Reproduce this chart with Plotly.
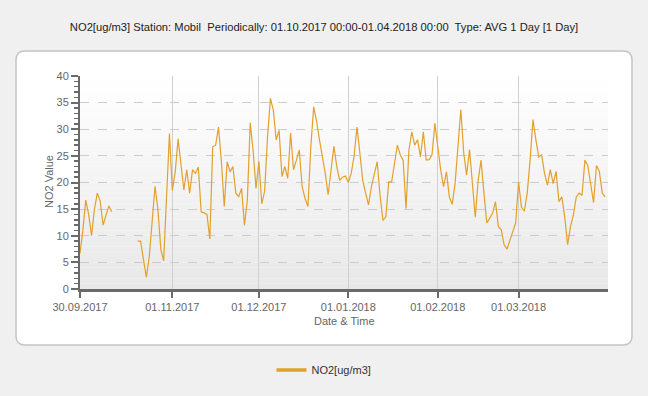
import plotly.graph_objects as go
import pandas as pd

# ---------------- data ----------------
start_date = "2017-09-30"
no2_values = [6.7, 11, 16.7, 14, 10, 15, 18, 16.5, 12, 14, 15.6, 14.5,
              None, None, None, None, None, None, None, None,
              9, 9, 5.5, 2.2, 6, 13, 19.3, 15, 7.5, 5.3,
              19, 29.2, 18.5, 22, 28.2, 23, 18.6, 22.4, 18, 22.4,
              21.7, 22.9, 14.5, 14.3, 14, 9.4, 26.7, 27, 30.4, 24,
              15.5, 23.9, 22, 23, 18, 17.3, 18.9, 12, 16.7, 31.2,
              26, 18.9, 24, 16, 18.4, 28.6, 35.8, 33.6, 28, 29.8,
              21.1, 23, 20.8, 29.3, 22.4, 24.2, 26.1, 19.2, 17, 15.5,
              26.7, 34.2, 31.5, 28, 25, 21.7, 17.7, 22.4, 26.8, 23,
              20.4, 21, 21.2, 20, 21.7, 25, 30.4, 25.5, 20.4, 18,
              15.8, 19.2, 21.4, 23.9, 17.5, 12.9, 13.5, 20.1, 20.1, 23.6,
              27, 25.2, 24.2, 15.1, 26.1, 29.5, 27, 28, 24.8, 29.5,
              24.2, 24.3, 25.2, 31.1, 26.4, 22.4, 19.2, 22, 17.3, 15.9,
              19.8, 27, 33.7, 25.5, 21.4, 26.2, 19.8, 13.5, 20.4, 24.2,
              18, 12.4, 13.3, 14.2, 16.4, 11.7, 11.1, 8.3, 7.5, 9.2,
              11.1, 12.4, 20.1, 15.4, 14.6, 18, 24.2, 31.8, 28, 24.8,
              25.2, 21.7, 19.5, 22.4, 19.8, 22.1, 16.4, 17.3, 13.5, 8.3,
              11.7, 13.9, 17.3, 18, 17.6, 24.2, 23.2, 19.8, 16.2, 23.2,
              22.1, 18, 17.3]
tick_dates = ["2017-09-30", "2017-11-01", "2017-12-01", "2018-01-01",
              "2018-02-01", "2018-03-01"]
tick_labels = ["30.09.2017", "01.11.2017", "01.12.2017", "01.01.2018",
               "01.02.2018", "01.03.2018"]
series_name = "NO2[ug/m3]"
title_text = ("NO2[ug/m3] Station: Mobil  Periodically: 01.10.2017 00:00-01.04.2018 00:00"
              "  Type: AVG 1 Day [1 Day]")

dates = pd.date_range(start_date, periods=len(no2_values), freq="D")

# ---------------- layout geometry ----------------
W, H = 648, 396
L, R, T, B = 80, 608, 76, 289
LINE = "#E1A12A"
FONT = "Liberation Sans, Arial, sans-serif"


def px(x):
    return (x - L) / (R - L)


def py(y):
    return (B - y) / (B - T)


def rounded(x0, y0, x1, y1, r):
    p = [
        f"M {px(x0 + r)},{py(y0)}",
        f"L {px(x1 - r)},{py(y0)}",
        f"Q {px(x1)},{py(y0)} {px(x1)},{py(y0 + r)}",
        f"L {px(x1)},{py(y1 - r)}",
        f"Q {px(x1)},{py(y1)} {px(x1 - r)},{py(y1)}",
        f"L {px(x0 + r)},{py(y1)}",
        f"Q {px(x0)},{py(y1)} {px(x0)},{py(y1 - r)}",
        f"L {px(x0)},{py(y0 + r)}",
        f"Q {px(x0)},{py(y0)} {px(x0 + r)},{py(y0)}",
        "Z",
    ]
    return " ".join(p)


shapes = [dict(type="path", xref="paper", yref="paper", layer="below",
               path=rounded(16, 51, 632, 345, 9),
               fillcolor="#ffffff", line=dict(color="#c4c4c4", width=1.5))]

# vertical gradient in plot area (white top -> light grey bottom)
nb = 40
for i in range(nb):
    f = i / (nb - 1)
    c = int(round(255 - f * (255 - 232)))
    shapes.append(dict(type="rect", xref="paper", yref="paper", layer="below",
                       x0=0, x1=1, y0=1 - (i + 1) / nb, y1=1 - i / nb,
                       fillcolor=f"rgb({c},{c},{c})", line=dict(width=0)))

fig = go.Figure()
fig.add_trace(go.Scatter(x=dates, y=no2_values, mode="lines",
                         line=dict(color=LINE, width=1.2),
                         connectgaps=False, showlegend=False,
                         hoverinfo="skip"))
fig.add_trace(go.Scatter(x=[None], y=[None], mode="lines", name=series_name,
                         line=dict(color=LINE, width=3.5), showlegend=True))

fig.update_layout(
    width=W, height=H,
    margin=dict(l=L, r=W - R, t=T, b=H - B, pad=0),
    paper_bgcolor="#f0f0f0",
    plot_bgcolor="rgba(0,0,0,0)",
    font=dict(family=FONT, size=11, color="#666666"),
    title=dict(text=title_text, x=0.5, xanchor="center", xref="container",
               y=1 - 27 / H, yanchor="middle", yref="container",
               font=dict(family=FONT, size=11.2, color="#222222")),
    shapes=shapes,
    showlegend=True,
    legend=dict(orientation="h", x=px(324), xanchor="center",
                y=py(370), yanchor="middle",
                font=dict(family=FONT, size=11, color="#333333"),
                bgcolor="rgba(0,0,0,0)"),
    annotations=[
        dict(text="NO2 Value", xref="paper", yref="paper", x=px(49), y=py(182),
             showarrow=False, textangle=-90, xanchor="center", yanchor="middle",
             font=dict(family=FONT, size=11, color="#666666")),
        dict(text="Date & Time", xref="paper", yref="paper", x=px(344), y=py(321),
             showarrow=False, xanchor="center", yanchor="middle",
             font=dict(family=FONT, size=11, color="#666666")),
    ],
)

fig.update_xaxes(
    type="date", range=["2017-09-30", "2018-04-01"],
    tickvals=tick_dates, ticktext=tick_labels,
    showgrid=True, gridcolor="#d0d0d0", gridwidth=1,
    showline=True, linecolor="#6a6a6a", linewidth=3,
    ticks="outside", ticklen=6, tickwidth=2, tickcolor="#6a6a6a",
    tickfont=dict(family=FONT, size=11, color="#666666"),
    zeroline=False, fixedrange=True,
)
fig.update_yaxes(
    range=[0, 40], tickvals=[0, 5, 10, 15, 20, 25, 30, 35, 40],
    showgrid=True, gridcolor="#cccccc", gridwidth=1, griddash="dash",
    showline=True, linecolor="#6a6a6a", linewidth=2,
    ticks="outside", ticklen=7, tickwidth=2, tickcolor="#6a6a6a",
    minor=dict(dtick=1, ticks="outside", ticklen=4, tickwidth=1.5,
               tickcolor="#6a6a6a", showgrid=False),
    tickfont=dict(family=FONT, size=11, color="#666666"),
    zeroline=False, fixedrange=True,
)

fig.write_html("out.html",
               config={"displayModeBar": False, "staticPlot": True},
               post_script="document.body.style.margin='0';"
                           "document.body.style.overflow='hidden';")
